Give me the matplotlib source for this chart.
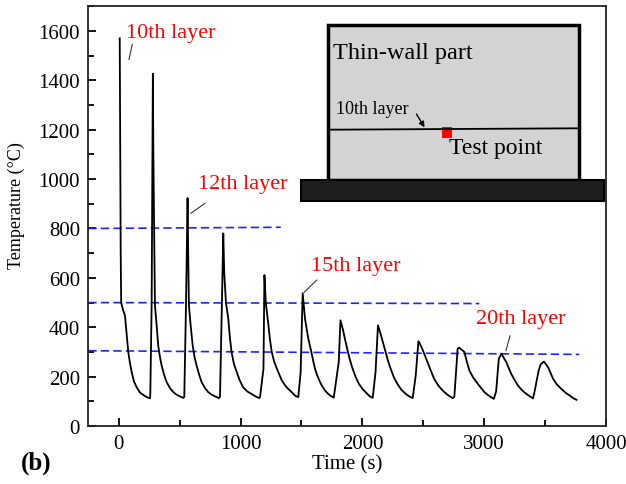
import matplotlib
matplotlib.use("Agg")
import matplotlib.pyplot as plt
from matplotlib.patches import Rectangle
from matplotlib.ticker import MultipleLocator

plt.rcParams['font.family'] = ['Liberation Serif', 'DejaVu Serif']

# thermal cycle, one row per deposited layer
time_s = [8, 12, 16, 20, 35, 51, 65, 78, 92, 106, 125, 147, 175, 201, 230, 256,
          259, 270, 280, 284, 289, 297, 311, 324, 338, 352, 372, 393, 420, 448, 475, 502, 530,
          538, 552, 565, 570, 576, 590, 607, 622, 639, 660, 680, 707, 735, 762, 790, 823,
          831, 845, 858, 866, 880, 899, 912, 926, 946, 968, 993, 1021, 1055, 1090, 1122, 1154,
          1160, 1188, 1196, 1207, 1229, 1240, 1256, 1275, 1298, 1339, 1375, 1420, 1450, 1474,
          1493, 1510, 1529, 1556, 1584, 1597, 1611, 1631, 1652, 1672, 1693, 1713, 1734, 1765,
          1806, 1820, 1842, 1858, 1875, 1895, 1916, 1942, 1971, 2005, 2040, 2060, 2085,
          2108, 2128, 2149, 2170, 2191, 2210, 2232, 2258, 2287, 2320, 2356, 2385, 2413,
          2438, 2460, 2470, 2485, 2510, 2534, 2562, 2589, 2622, 2658, 2700, 2742,
          2755, 2782, 2796, 2837, 2857, 2878, 2910, 2947, 3002, 3040, 3079,
          3098, 3120, 3140, 3181, 3222, 3250, 3277, 3310, 3346, 3375, 3401,
          3414, 3447, 3464, 3491, 3524, 3566, 3597, 3634, 3670, 3703, 3730, 3758]
temp_c = [1570, 1100, 700, 500, 470, 448, 370, 300, 255, 219, 180, 157, 135, 126, 117, 112,
          130, 489, 1427, 1106, 855, 489, 408, 326, 280, 245, 208, 178, 154, 137, 127, 120, 114,
          118, 489, 923, 700, 489, 408, 326, 280, 245, 208, 178, 154, 137, 127, 120, 113,
          118, 450, 780, 620, 500, 435, 360, 300, 250, 219, 185, 157, 140, 130, 120, 113,
          118, 232, 611, 500, 408, 355, 300, 262, 232, 184, 158, 137, 122, 117,
          217, 537, 435, 354, 293, 262, 232, 203, 178, 160, 144, 133, 124, 115,
          259, 428, 387, 350, 313, 273, 238, 202, 171, 148, 130, 120, 114,
          218, 408, 374, 337, 300, 265, 232, 198, 171, 147, 130, 120, 113,
          205, 343, 335, 320, 290, 259, 224, 191, 165, 144, 126, 113,
          118, 313, 317, 300, 262, 225, 196, 171, 137, 122, 110,
          140, 272, 293, 259, 211, 186, 164, 145, 130, 120, 112,
          140, 225, 250, 261, 238, 191, 168, 150, 134, 123, 113, 106]

# blue dashed reference levels
ref_t_start = [-250, -250, -250]
ref_t_end = [1330, 2960, 3780]
ref_T_start = [800, 500, 305]
ref_T_end = [805, 496, 290]

# layer labels: text, text position, leader line
layer_names = ['10th layer', '12th layer', '15th layer', '20th layer']
label_t = [429, 1016, 1942, 3303]
label_T = [1593, 984, 652, 435]
leader_t = [(84, 111), (593, 708), (1521, 1625), (3179, 3212)]
leader_T = [(1485, 1546), (862, 902), (541, 591), (306, 365)]

fig = plt.figure(figsize=(6.26, 4.85), dpi=100)
ax = fig.add_axes([88.3 / 626, 58 / 485, (606 - 88.3) / 626, (427 - 7.3) / 485])

for t0, t1, y0, y1 in zip(ref_t_start, ref_t_end, ref_T_start, ref_T_end):
    ln, = ax.plot([t0, t1], [y0, y1], color='#2222ff', lw=1.2)
    ln.set_dashes((5, 2.5))

ax.plot(time_s, temp_c, color='black', lw=1.3)

for name, tx, ty, lt, lT in zip(layer_names, label_t, label_T, leader_t, leader_T):
    ax.text(tx, ty, name, color='red', fontsize=16, ha='center', va='center')
    ax.plot(lt, lT, color='#333333', lw=0.8)

ax.set_xlim(-250, 4000)
ax.set_ylim(0, 1700)
ax.xaxis.set_major_locator(MultipleLocator(1000))
ax.xaxis.set_minor_locator(MultipleLocator(500))
ax.yaxis.set_major_locator(MultipleLocator(200))
ax.yaxis.set_minor_locator(MultipleLocator(100))
ax.tick_params(which='both', direction='in', top=False, right=False, width=1.3,
               labelsize=15, pad=6)
ax.tick_params(which='major', length=6)
ax.tick_params(which='minor', length=4)
for sp in ax.spines.values():
    sp.set_linewidth(1.3)
    sp.set_color('#222222')

ax.set_xlabel('Time (s)', fontsize=15, labelpad=1)
ax.set_ylabel('Temperature (°C)', fontsize=13)
ax.yaxis.set_label_coords(-0.122, 0.527)
fig.text(21 / 626, 1 - 463 / 485, '(b)', fontsize=18, fontweight='bold', va='center')

# schematic of the part, drawn in pixel coordinates on an overlay
ov = fig.add_axes([0, 0, 1, 1])
ov.set_xlim(0, 626)
ov.set_ylim(485, 0)
ov.axis('off')
ov.patch.set_alpha(0)
ov.add_patch(Rectangle((327.7, 26), 251.6, 154.7, fc='#d3d3d3', ec='black', lw=2.5))
ov.add_patch(Rectangle((301, 180.7), 303, 21, fc='#1e1e1e', ec='black', lw=1.5))
ov.plot([328, 579], [130.7, 129.3], color='black', lw=1.3)
ov.add_patch(Rectangle((441.7, 128.3), 10.6, 10.7, fc='red', ec='none'))
ov.text(333, 53, 'Thin-wall part', fontsize=17.5, va='center', ha='left')
ov.text(336, 109.3, '10th layer', fontsize=13, va='center', ha='left')
ov.text(449, 149, 'Test point', fontsize=17, va='center', ha='left')
ov.annotate('', xy=(426, 130.7), xytext=(415, 112.7),
            arrowprops=dict(arrowstyle='-|>', color='black', lw=1, mutation_scale=8))

fig.savefig('out.png', dpi=100)
